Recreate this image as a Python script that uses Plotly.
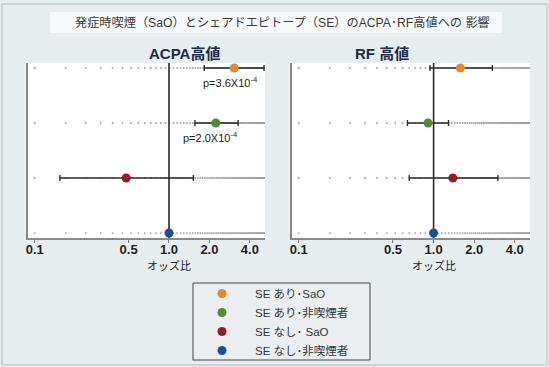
import numpy as np
import plotly.graph_objects as go

# ---- data ----
groups = ["SE あり･SaO", "SE あり･非喫煙者", "SE なし･ SaO", "SE なし･非喫煙者"]
colors = ["#e8862a", "#4f8a35", "#8e1f32", "#1f4f8e"]
rows = [3, 2, 1, 0]

acpa_or = [3.06, 2.23, 0.48, 1.0]
acpa_lo = [1.83, 1.56, 0.154, None]
acpa_hi = [5.1, 3.27, 1.52, None]

rf_or = [1.58, 0.91, 1.39, 1.0]
rf_lo = [0.94, 0.64, 0.66, None]
rf_hi = [2.73, 1.29, 3.0, None]

tick_vals = [0.1, 0.5, 1.0, 2.0, 4.0]
tick_text = ["0.1", "0.5", "1.0", "2.0", "4.0"]

pvals = ["p=3.6X10<sup>-4</sup>", "p=2.0X10<sup>-4</sup>"]
pval_pos = [(2.85, 2.74), (2.05, 1.74)]

title = "発症時喫煙（SaO）とシェアドエピトープ（SE）のACPA･RF高値への 影響"
panel_titles = ["ACPA高値", "RF 高値"]
xlabel = "オッズ比"

W, H = 549, 367
FONT = "Liberation Sans, Arial, Noto Sans CJK JP"

fig = go.Figure()

panels = [("x", "y", acpa_or, acpa_lo, acpa_hi), ("x2", "y2", rf_or, rf_lo, rf_hi)]
grid_x = np.arange(0.1, 5.3, 0.07)

for pi, (xa, ya, ors, los, his) in enumerate(panels):
    # dotted row guides
    for r in rows:
        fig.add_trace(go.Scatter(x=grid_x, y=[r] * len(grid_x), mode="markers",
                                 marker=dict(size=1.8, color="#9a9a9a"),
                                 xaxis=xa, yaxis=ya, showlegend=False, hoverinfo="skip"))
    # reference line at OR=1
    fig.add_trace(go.Scatter(x=[1, 1], y=[-0.09, 3.09], mode="lines",
                             line=dict(color="#2a2a2a", width=1.6),
                             xaxis=xa, yaxis=ya, showlegend=False, hoverinfo="skip"))
    for i in range(4):
        ex = None
        if los[i] is not None:
            ex = dict(type="data", symmetric=False,
                      array=[his[i] - ors[i]], arrayminus=[ors[i] - los[i]],
                      color="#2a2a2a", thickness=1.4, width=3)
        fig.add_trace(go.Scatter(x=[ors[i]], y=[rows[i]], mode="markers",
                                 marker=dict(size=9, color=colors[i]),
                                 error_x=ex, name=groups[i], legendgroup=groups[i],
                                 showlegend=(pi == 0), xaxis=xa, yaxis=ya))

def xax(domain):
    return dict(type="log", domain=domain, range=[-1.05, 0.715],
                tickvals=tick_vals, ticktext=["<b>%s</b>" % t for t in tick_text],
                tickfont=dict(size=13, color="#1e1e1e", family=FONT),
                ticks="outside", ticklen=3, tickcolor="#777", tickwidth=1,
                ticklabelstandoff=-5,
                showline=True, linecolor="#8a8a8a", linewidth=2,
                showgrid=False, zeroline=False, fixedrange=True)

def yax(domain, anchor):
    return dict(domain=domain, range=[-0.09, 3.09], showticklabels=False,
                showline=True, linecolor="#8a8a8a", linewidth=2,
                showgrid=False, zeroline=False, anchor=anchor, fixedrange=True)

ydom = [1 - 238 / H, 1 - 63 / H]
fig.update_layout(
    width=W, height=H,
    margin=dict(l=0, r=0, t=0, b=0, autoexpand=False),
    paper_bgcolor="#e7ecef",
    plot_bgcolor="#ffffff",
    font=dict(family=FONT),
    xaxis=dict(**xax([28 / W, 265 / W]), anchor="y"),
    yaxis=yax(ydom, "x"),
    xaxis2=dict(**xax([292 / W, 530 / W]), anchor="y2"),
    yaxis2=yax(ydom, "x2"),
    showlegend=True,
    legend=dict(x=189 / W, y=1 - 279 / H, xanchor="left", yanchor="top",
                bgcolor="rgba(0,0,0,0)", borderwidth=0,
                font=dict(size=11.5, color="#333", family=FONT),
                itemwidth=56, tracegroupgap=0),
)

shapes = [
    dict(type="rect", xref="paper", yref="paper", x0=2 / W, x1=547 / W, y0=2 / H, y1=1 - 4 / H,
         line=dict(color="#b5b9bc", width=1), fillcolor="rgba(0,0,0,0)", layer="below"),
    dict(type="rect", xref="paper", yref="paper", x0=50 / W, x1=502 / W, y0=1 - 33 / H, y1=1 - 12 / H,
         line=dict(width=0), fillcolor="#f6f8f9", layer="below"),
    dict(type="rect", xref="paper", yref="paper", x0=193 / W, x1=370 / W, y0=1 - 360 / H, y1=1 - 283 / H,
         line=dict(color="#444", width=1), fillcolor="#eaeef1", layer="below"),
]
fig.update_layout(shapes=shapes)

ann = [
    dict(text=title, xref="paper", yref="paper", x=282 / W, y=1 - 22 / H, showarrow=False,
         font=dict(size=12.2, color="#3a3a3a", family=FONT), xanchor="center", yanchor="middle"),
    dict(text="<b>%s</b>" % panel_titles[0], xref="paper", yref="paper", x=147 / W, y=1 - 53 / H,
         showarrow=False, font=dict(size=15, color="#1c2a48", family=FONT), yanchor="middle"),
    dict(text="<b>%s</b>" % panel_titles[1], xref="paper", yref="paper", x=411 / W, y=1 - 53 / H,
         showarrow=False, font=dict(size=15, color="#1c2a48", family=FONT), yanchor="middle"),
]
for xa in ["x", "x2"]:
    ann.append(dict(text=xlabel, xref=xa, yref="paper", x=0, y=1 - 265 / H, showarrow=False,
                    font=dict(size=11, color="#222", family=FONT), yanchor="middle"))
for t, (px, py) in zip(pvals, pval_pos):
    ann.append(dict(text=t, xref="x", yref="y", x=np.log10(px), y=py, showarrow=False,
                    font=dict(size=11, color="#222", family=FONT), yanchor="middle"))
fig.update_layout(annotations=ann)

fig.write_html("out.html", config={"displayModeBar": False},
               post_script="document.body.style.margin='0';")
